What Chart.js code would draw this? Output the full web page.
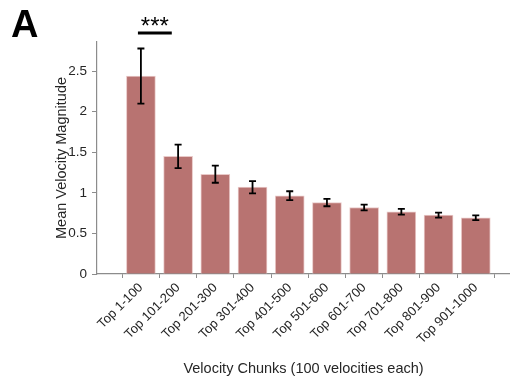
<!DOCTYPE html>
<html>
<head>
<meta charset="utf-8">
<script src="https://cdn.jsdelivr.net/npm/chart.js@4.4.1/dist/chart.umd.min.js"></script>
<style>
  html, body { margin: 0; padding: 0; background: #fff; }
  #wrap { position: relative; width: 510px; height: 380px; }
  #panel { position: absolute; left: 11px; top: 3px; font: bold 38px "Liberation Sans", Arial, sans-serif; color: #000; }
</style>
</head>
<body>
<div id="wrap">
  <canvas id="chart" width="510" height="380"></canvas>
  <div id="panel">A</div>
</div>
<script>
// chart data
const chunkLabels = ['Top 1-100', 'Top 101-200', 'Top 201-300', 'Top 301-400', 'Top 401-500',
                     'Top 501-600', 'Top 601-700', 'Top 701-800', 'Top 801-900', 'Top 901-1000'];
const meanVelocity = [2.44, 1.45, 1.23, 1.07, 0.965, 0.88, 0.82, 0.767, 0.726, 0.693];
const errorHalf = [0.34, 0.145, 0.105, 0.075, 0.055, 0.045, 0.035, 0.035, 0.03, 0.03];
const yTicks = [0, 0.5, 1, 1.5, 2, 2.5];
const yTickLabels = ['0', '0.5', '1', '1.5', '2', '2.5'];
const sigLabel = '***';

const axisColor = '#8c8c8c';
const textColor = '#262626';
const font = '"Liberation Sans", Arial, Helvetica, sans-serif';

// error bars + significance bar
const errorBarPlugin = {
    id: 'errorBars',
    afterDatasetsDraw(chart) {
        const ctx = chart.ctx;
        const yScale = chart.scales.y;
        const xScale = chart.scales.x;
        const meta = chart.getDatasetMeta(0);
        ctx.save();
        ctx.strokeStyle = '#000';
        ctx.lineWidth = 1.8;
        meta.data.forEach((bar, i) => {
            const x = bar.x;
            const top = yScale.getPixelForValue(meanVelocity[i] + errorHalf[i]);
            const bottom = yScale.getPixelForValue(meanVelocity[i] - errorHalf[i]);
            ctx.beginPath();
            ctx.moveTo(x, top);
            ctx.lineTo(x, bottom);
            ctx.moveTo(x - 3.5, top);
            ctx.lineTo(x + 3.5, top);
            ctx.moveTo(x - 3.5, bottom);
            ctx.lineTo(x + 3.5, bottom);
            ctx.stroke();
        });

        // significance marker over the first two bars
        const x1 = xScale.getPixelForValue(0.92);
        const x2 = xScale.getPixelForValue(1.83);
        const yLine = chart.chartArea.top - 9;
        ctx.lineWidth = 3;
        ctx.beginPath();
        ctx.moveTo(x1, yLine);
        ctx.lineTo(x2, yLine);
        ctx.stroke();
        ctx.fillStyle = '#000';
        ctx.font = `24px ${font}`;
        ctx.textAlign = 'center';
        ctx.textBaseline = 'alphabetic';
        ctx.fillText(sigLabel, (x1 + x2) / 2, yLine + 1);
        ctx.restore();
    }
};

new Chart(document.getElementById('chart').getContext('2d'), {
    type: 'bar',
    data: {
        datasets: [{
            data: meanVelocity.map((v, i) => ({ x: i + 1, y: v })),
            backgroundColor: '#b87371',
            borderColor: '#e9c9c8',
            borderWidth: 1,
            barThickness: 29
        }]
    },
    options: {
        responsive: false,
        animation: false,
        layout: { padding: { top: 42, right: 0, left: 53, bottom: 0 } },
        plugins: { legend: { display: false }, tooltip: { enabled: false } },
        scales: {
            x: {
                type: 'linear',
                min: -0.18,
                max: 10.92,
                offset: false,
                afterBuildTicks: (scale) => { scale.ticks = chunkLabels.map((l, i) => ({ value: i + 1 })); },
                afterFit: (scale) => { scale.height = 106; },
                ticks: {
                    autoSkip: false,
                    maxRotation: 45,
                    minRotation: 45,
                    padding: 2,
                    color: textColor,
                    font: { family: font, size: 13 },
                    callback: (v) => chunkLabels[v - 1]
                },
                grid: { drawOnChartArea: false, drawTicks: true, tickLength: 4, color: axisColor },
                border: { display: true, color: axisColor, width: 1.2 },
                title: {
                    display: true,
                    text: 'Velocity Chunks (100 velocities each)',
                    color: textColor,
                    font: { family: font, size: 14.5 },
                    padding: { top: 0, bottom: 2 }
                }
            },
            y: {
                min: 0,
                max: 2.86,
                afterBuildTicks: (scale) => { scale.ticks = yTicks.map(v => ({ value: v })); },
                afterFit: (scale) => { scale.width = 44; },
                ticks: {
                    color: textColor,
                    padding: 5,
                    font: { family: font, size: 13.5 },
                    callback: (v) => yTickLabels[yTicks.indexOf(v)]
                },
                grid: { drawOnChartArea: false, drawTicks: true, tickLength: 5, color: axisColor },
                border: { display: true, color: axisColor, width: 1.2 },
                title: {
                    display: true,
                    text: 'Mean Velocity Magnitude',
                    color: textColor,
                    font: { family: font, size: 14.5 },
                    padding: { top: 0, bottom: 2 }
                }
            }
        }
    },
    plugins: [errorBarPlugin]
});
</script>
</body>
</html>
